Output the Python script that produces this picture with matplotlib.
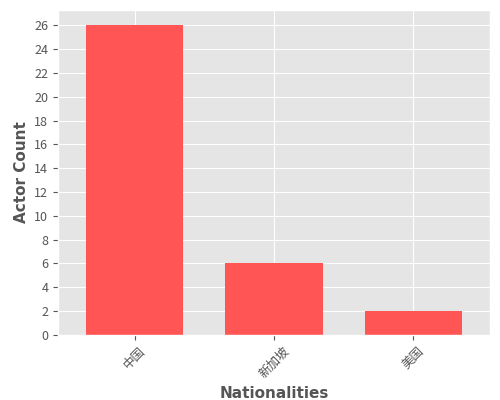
import matplotlib
matplotlib.use("Agg")
import matplotlib.pyplot as plt

categories = ["中国", "新加坡", "美国"]
counts = [26, 6, 2]

plt.style.use("ggplot")
plt.rcParams['font.family'] = ['Noto Sans CJK SC', 'DejaVu Sans']
fig = plt.figure(figsize=(5, 4), dpi=100)
ax = fig.add_axes([0.116, 0.163, 0.864, 0.812])
ax.bar(range(len(categories)), counts, width=0.7, color="#FF5555")
ax.set_xticks(range(len(categories)))
ax.set_xticklabels(categories, rotation=45, family=['Noto Sans CJK SC', 'DejaVu Sans'])
ax.set_yticks(range(0, 27, 2))
ax.set_ylim(0, 27.3)
ax.set_xlim(-0.55, 2.55)
ax.set_xlabel("Nationalities", fontsize=11, color="#555555", fontweight="bold", family="DejaVu Sans")
ax.set_ylabel("Actor Count", fontsize=11, color="#555555", fontweight="bold", family="DejaVu Sans")
ax.tick_params(labelsize=9)
fig.savefig("out.png", dpi=100)
